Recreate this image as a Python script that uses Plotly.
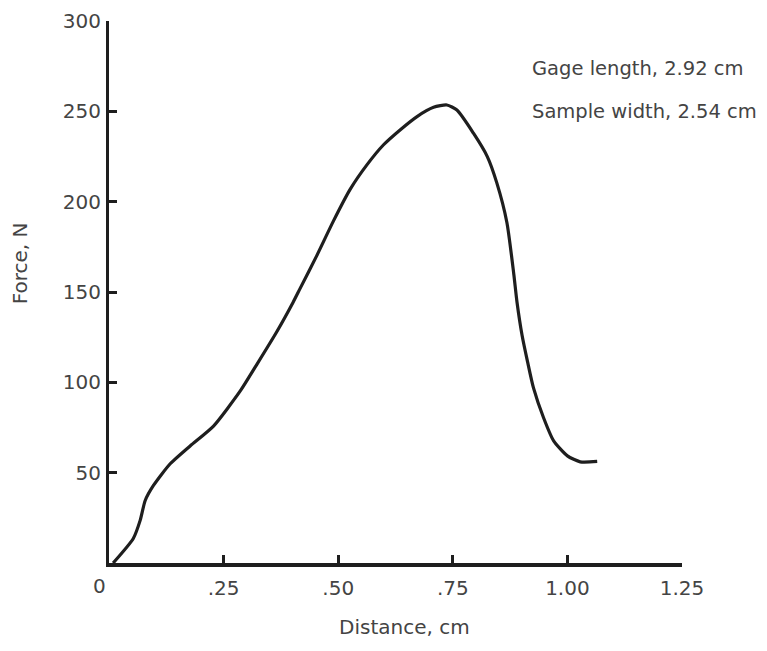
import plotly.graph_objects as go

distance_cm = [0.009, 0.053, 0.068, 0.079, 0.097, 0.133, 0.177, 0.228, 0.286, 0.322, 0.366, 0.402,
               0.417, 0.453, 0.490, 0.526, 0.563, 0.599, 0.635, 0.672, 0.708, 0.737, 0.759,
               0.795, 0.825, 0.846, 0.868, 0.883, 0.890, 0.901, 0.913, 0.926, 0.948, 0.970,
               1.000, 1.028, 1.065]
force_n = [0.0, 13.6, 23.6, 34.6, 42.9, 54.8, 64.8, 75.8, 95.1, 109.7, 128.0, 144.5,
           152.0, 170.0, 189.5, 206.8, 220.5, 231.5, 239.7, 247.1, 252.2, 253.5, 250.7,
           237.9, 225.1, 210.4, 188.5, 160.0, 144.5, 126.2, 111.5, 96.9, 80.4, 67.6,
           59.3, 56.0, 56.2]

x_tickvals = [0.25, 0.50, 0.75, 1.00, 1.25]
x_ticktext = [".25", ".50", ".75", "1.00", "1.25"]
y_tickvals = [50, 100, 150, 200, 250, 300]
y_ticktext = ["50", "100", "150", "200", "250", "300"]
notes = ["Gage length, 2.92 cm", "Sample width, 2.54 cm"]
x_title = "Distance, cm"
y_title = "Force, N"

FONT = "DejaVu Sans, sans-serif"
TXT = "#444444"
INK = "#1e1e1e"
FS = 20

fig = go.Figure()
fig.add_trace(go.Scatter(x=distance_cm, y=force_n, mode="lines",
                         line=dict(color=INK, width=3.2, shape="spline", smoothing=0.6),
                         showlegend=False, hoverinfo="skip"))

# page body has an 8px default margin, so the figure is 16px smaller than the window
fig.update_layout(
    width=751, height=635,
    margin=dict(l=101, r=77, t=13, b=80, autoexpand=False),
    paper_bgcolor="white", plot_bgcolor="white",
    font=dict(family=FONT, size=FS, color=TXT),
    xaxis=dict(range=[0, 1.25], tickvals=x_tickvals, ticktext=x_ticktext,
               showgrid=False, zeroline=False, showline=True, linecolor=INK, linewidth=4,
               ticks="inside", ticklen=8, tickwidth=2.5, tickcolor=INK,
               ticklabelstandoff=4, ticklabeloverflow="allow",
               tickfont=dict(family=FONT, size=FS, color=TXT)),
    yaxis=dict(range=[0, 300], tickvals=y_tickvals, ticktext=y_ticktext,
               showgrid=False, zeroline=False, showline=True, linecolor=INK, linewidth=3,
               ticks="inside", ticklen=8, tickwidth=2.5, tickcolor=INK,
               ticklabelstandoff=1, ticklabeloverflow="allow",
               tickfont=dict(family=FONT, size=FS, color=TXT)),
)

# "0" at the origin
fig.add_annotation(x=0, y=0, xref="x", yref="y", text="0", showarrow=False,
                   xanchor="right", yanchor="middle", xshift=-1, yshift=-23,
                   font=dict(family=FONT, size=FS, color=TXT))
# axis titles
fig.add_annotation(x=0.644, y=-0.119, xref="x", yref="paper", text=x_title, showarrow=False,
                   xanchor="center", yanchor="middle",
                   font=dict(family=FONT, size=FS, color=TXT))
fig.add_annotation(x=-0.155, y=166, xref="paper", yref="y", text=y_title, showarrow=False,
                   textangle=-90, xanchor="center", yanchor="middle",
                   font=dict(family=FONT, size=FS, color=TXT))
# notes
note_y = [273.6, 250.0]
for t, yy in zip(notes, note_y):
    fig.add_annotation(xref="x", yref="y", x=0.918, y=yy, text=t, showarrow=False,
                       xanchor="left", yanchor="middle",
                       font=dict(family=FONT, size=19.5, color=TXT))

fig.write_html("out.html")
